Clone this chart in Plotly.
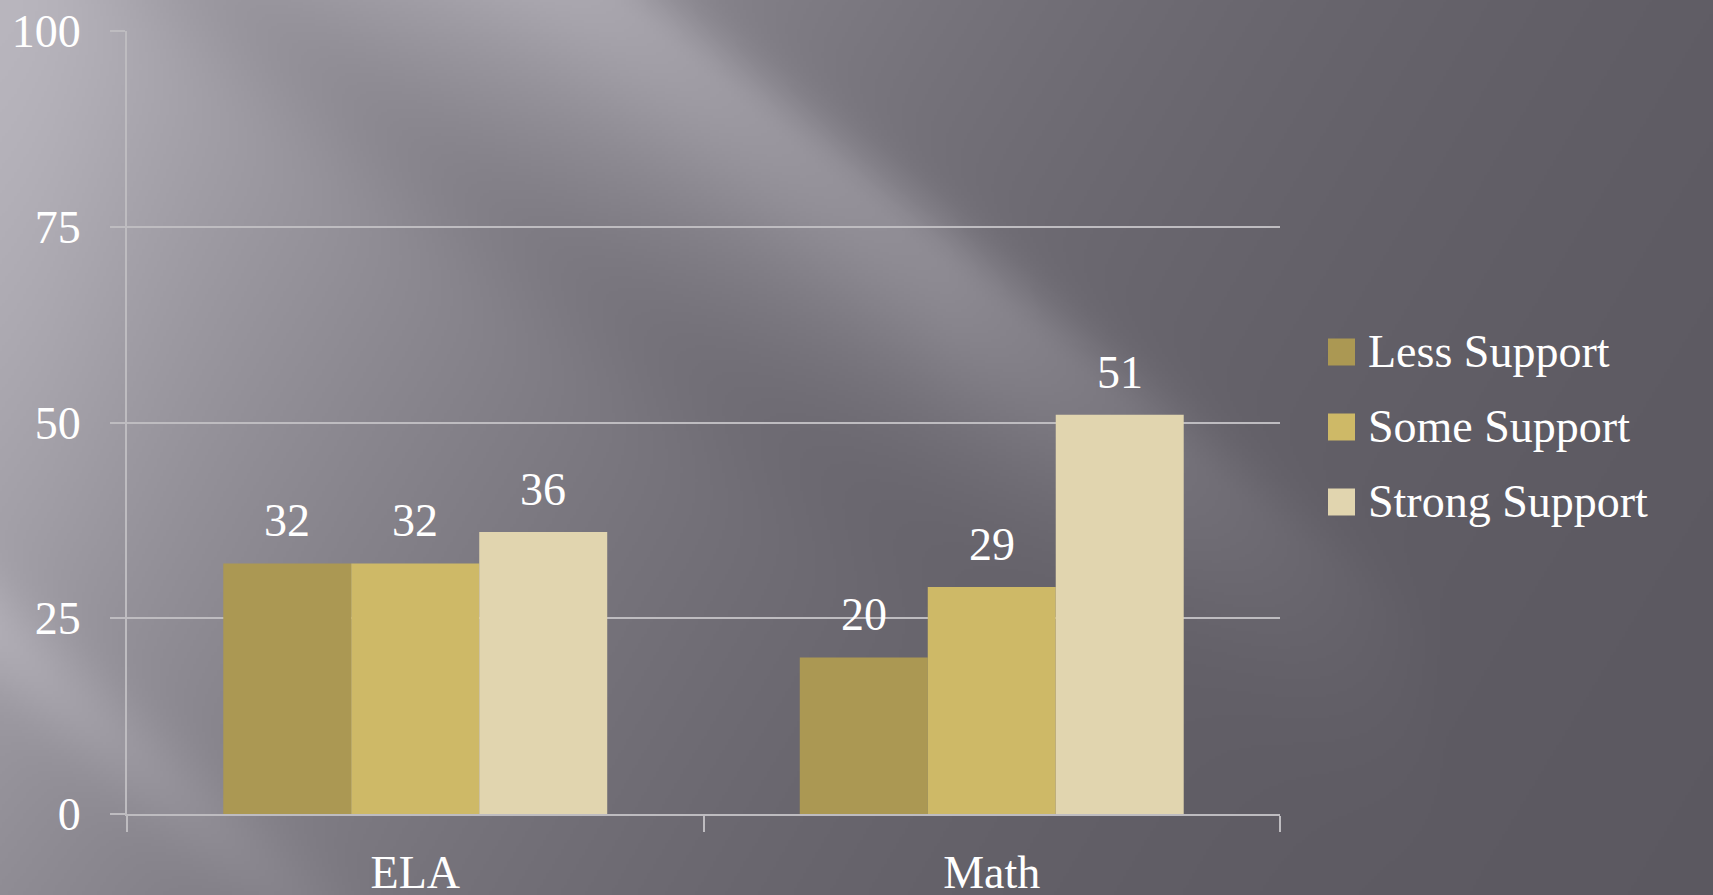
import base64
import struct
import zlib

import numpy as np
import plotly.graph_objects as go

# ---- data -------------------------------------------------------------
categories = ["ELA", "Math"]
series_names = ["Less Support", "Some Support", "Strong Support"]
less_support = [32, 20]
some_support = [32, 29]
strong_support = [36, 51]
series_values = [less_support, some_support, strong_support]
series_colors = ["#AB9853", "#CEB967", "#E1D5AF"]
y_ticks = [0, 25, 50, 75, 100]

# ---- page geometry ----------------------------------------------------
W, H = 1713, 895
M_L, M_R, M_T, M_B = 127, 433, 31, 81
PLOT_W = W - M_L - M_R
PLOT_H = H - M_T - M_B

FONT = "Liberation Serif, Times New Roman, serif"
AXIS_GREY = "#BEBCC0"
BAR_W = 0.222


def px_to_paper(px, py):
    return (px - M_L) / PLOT_W, (H - M_B - py) / PLOT_H


# ---- brushed-grey backdrop with diagonal light streaks -----------------
def backdrop_png(w, h, scale):
    ys, xs = np.mgrid[0:h, 0:w].astype(float)
    x = xs * scale
    y = ys * scale
    u = x + 0.6 * y
    lum = 90 + 85 * np.exp(-(u / 900.0) ** 1.5)

    # main streak running from the top edge down to the right:
    # crisp upper edge, softer lower edge
    nx, ny = 0.8, -1.0
    norm = np.hypot(nx, ny)
    d1 = ((x - 610) * nx + (y - 0) * ny) / norm
    sig = np.where(d1 > 0, 45.0, 110.0)
    along1 = np.clip(1.0 - (x - 950) / 500.0, 0, 1)
    lum += 30 * np.exp(-(d1 / sig) ** 2) * along1

    # darker wedge between the corner glow and the main streak
    d3 = ((x - 230) * nx + (y - 0) * ny) / norm
    lum -= 12 * np.exp(-(d3 / 70.0) ** 2) * np.clip(1 - y / 700.0, 0, 1)

    # lower-left streak
    d2 = ((x - 0) * 0.88 + (y - 640) * -1.0) / np.hypot(0.88, 1.0)
    along2 = np.clip(1.0 - x / 520.0, 0, 1)
    lum += 18 * np.exp(-(d2 / 45.0) ** 2) * along2

    # light haze along the left edge
    lum += 10 * np.exp(-(x / 140.0) ** 2) * np.clip(1 - y / 900.0, 0, 1)

    rgb = np.stack([lum, lum - 3, lum + 5], axis=-1)
    arr = np.clip(rgb, 0, 255).astype(np.uint8)

    raw = b"".join(b"\x00" + arr[i].tobytes() for i in range(h))

    def chunk(tag, data):
        c = struct.pack(">I", len(data)) + tag + data
        return c + struct.pack(">I", zlib.crc32(tag + data) & 0xFFFFFFFF)

    png = (b"\x89PNG\r\n\x1a\n"
           + chunk(b"IHDR", struct.pack(">IIBBBBB", w, h, 8, 2, 0, 0, 0))
           + chunk(b"IDAT", zlib.compress(raw, 9))
           + chunk(b"IEND", b""))
    return "data:image/png;base64," + base64.b64encode(png).decode()


SCALE = 3
bg_src = backdrop_png(W // SCALE + 2, H // SCALE + 2, SCALE)

# ---- figure -----------------------------------------------------------
fig = go.Figure()
x_centres = np.arange(len(categories))

annotations = []
for k, (name, vals, col) in enumerate(zip(series_names, series_values, series_colors)):
    xs = x_centres + (k - 1) * BAR_W
    fig.add_trace(go.Bar(
        x=xs, y=vals, width=BAR_W, name=name,
        marker=dict(color=col, line=dict(width=0)),
        showlegend=False, hoverinfo="name+y",
    ))
    for xv, v in zip(xs, vals):
        annotations.append(dict(
            x=xv, y=v, xref="x", yref="y", text=str(v), showarrow=False,
            yanchor="bottom", xanchor="center", yshift=15,
            font=dict(family=FONT, size=46, color="white"),
        ))

# hand-built legend with large swatches
legend_x_px = 1328
legend_text_px = 1366
legend_y_px = [352, 427, 502]
shapes = []
SW = 27
for name, col, cy in zip(series_names, series_colors, legend_y_px):
    x0, y0 = px_to_paper(legend_x_px, cy + SW / 2)
    x1, y1 = px_to_paper(legend_x_px + SW, cy - SW / 2)
    shapes.append(dict(type="rect", xref="paper", yref="paper",
                       x0=x0, x1=x1, y0=y0, y1=y1,
                       fillcolor=col, line=dict(width=0)))
    tx, ty = px_to_paper(legend_text_px, cy)
    annotations.append(dict(
        x=tx, y=ty, xref="paper", yref="paper", text=name, showarrow=False,
        xanchor="left", yanchor="middle", yshift=1,
        font=dict(family=FONT, size=46, color="white"),
    ))

bx0, by1 = px_to_paper(0, 0)
bx1, by0 = px_to_paper(W, H)

fig.update_layout(
    template="none",
    width=W, height=H, autosize=False,
    margin=dict(l=M_L, r=M_R, t=M_T, b=M_B, pad=0),
    paper_bgcolor="#6E6B72",
    plot_bgcolor="rgba(0,0,0,0)",
    barmode="overlay",
    showlegend=False,
    font=dict(family=FONT, color="white", size=46),
    images=[dict(source=bg_src, xref="paper", yref="paper",
                 x=bx0, y=by1, sizex=bx1 - bx0, sizey=by1 - by0,
                 xanchor="left", yanchor="top", sizing="stretch",
                 layer="below")],
    shapes=shapes,
    annotations=annotations,
    xaxis=dict(
        automargin=False,
        range=[-0.5, len(categories) - 0.5],
        tickvals=list(x_centres), ticktext=categories,
        ticks="", showgrid=False, zeroline=False,
        showline=True, linecolor=AXIS_GREY, linewidth=2,
        tickfont=dict(family=FONT, size=46, color="white"),
        ticklabelstandoff=17,
        minor=dict(tickvals=[-0.5, 0.5, 1.5], ticks="outside", ticklen=16,
                   tickwidth=2, tickcolor=AXIS_GREY, showgrid=False),
    ),
    yaxis=dict(
        automargin=False,
        range=[0, 100], tickvals=y_ticks,
        ticks="outside", ticklen=15, tickwidth=2, tickcolor=AXIS_GREY,
        showgrid=True, gridcolor=AXIS_GREY, gridwidth=2,
        zeroline=False, showline=True, linecolor=AXIS_GREY, linewidth=2,
        tickfont=dict(family=FONT, size=46, color="white"),
        ticklabelstandoff=20,
    ),
)

fig.write_html("out.html")
